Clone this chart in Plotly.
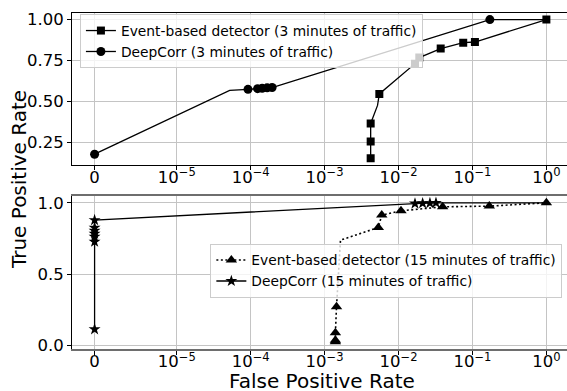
import numpy as np
import plotly.graph_objects as go

# ---- data: false positive rate / true positive rate ----
# Top panel: 3 minutes of traffic
ev3_fpr = [0.0042, 0.0042, 0.0042, 0.0052, 0.0055, 0.0167, 0.0191, 0.0372, 0.075, 0.108, 1.0]
ev3_tpr = [0.154, 0.256, 0.366, 0.476, 0.546, 0.731, 0.768, 0.823, 0.859, 0.863, 1.0]
ev3_mark = [1, 1, 1, 0, 1, 1, 1, 1, 1, 1, 1]

dc3_fpr = [0.0, 5.2e-5, 9.2e-5, 1.24e-4, 1.43e-4, 1.67e-4, 1.95e-4, 0.172, 1.0]
dc3_tpr = [0.178, 0.568, 0.574, 0.578, 0.580, 0.583, 0.585, 1.0, 1.0]
dc3_mark = [1, 0, 1, 1, 1, 1, 1, 1, 0]

# Bottom panel: 15 minutes of traffic
ev15_fpr = [1.4e-3, 1.4e-3, 1.4e-3, 1.45e-3, 1.64e-3, 5.33e-3, 5.93e-3, 0.0108, 0.0395, 0.169, 1.0]
ev15_tpr = [0.025, 0.035, 0.088, 0.271, 0.738, 0.827, 0.914, 0.944, 0.972, 0.977, 1.0]
ev15_mark = [1, 1, 1, 1, 0, 1, 1, 1, 1, 1, 1]

dc15_fpr = [0, 0, 0, 0, 0, 0, 0, 0.0167, 0.0212, 0.0266, 0.0321, 1.0]
dc15_tpr = [0.112, 0.727, 0.762, 0.783, 0.804, 0.825, 0.879, 0.995, 0.997, 0.998, 1.0, 1.0]
dc15_mark = [1, 1, 1, 1, 1, 1, 1, 1, 1, 1, 1, 0]

x_ticks = [0, 1e-5, 1e-4, 1e-3, 1e-2, 1e-1, 1e0]
x_ticktext = ["0", "10<sup>−5</sup>", "10<sup>−4</sup>", "10<sup>−3</sup>",
              "10<sup>−2</sup>", "10<sup>−1</sup>", "10<sup>0</sup>"]

LINTHRESH = 1e-5
LINSCALE = 1.0


def symlog(v):
    """Symmetric-log transform (linear below LINTHRESH, log10 above)."""
    v = np.asarray(v, dtype=float)
    scale = LINSCALE / (1.0 - 1.0 / 10.0)
    a = np.abs(v)
    lin = a / LINTHRESH * scale
    lg = scale + np.log10(np.maximum(a, LINTHRESH) / LINTHRESH)
    return np.sign(v) * np.where(a <= LINTHRESH, lin, lg)


def mcolors(flags):
    return ["black" if f else "rgba(0,0,0,0)" for f in flags]


FONT = "DejaVu Sans"
fig = go.Figure()

fig.add_trace(go.Scatter(
    x=symlog(ev3_fpr), y=ev3_tpr, mode="lines+markers",
    name="Event-based detector (3 minutes of traffic)",
    line=dict(color="black", width=1.3),
    marker=dict(symbol="square", size=8, color=mcolors(ev3_mark)),
    xaxis="x", yaxis="y", legend="legend"))
fig.add_trace(go.Scatter(
    x=symlog(dc3_fpr), y=dc3_tpr, mode="lines+markers",
    name="DeepCorr (3 minutes of traffic)",
    line=dict(color="black", width=1.3),
    marker=dict(symbol="circle", size=9, color=mcolors(dc3_mark)),
    xaxis="x", yaxis="y", legend="legend"))
fig.add_trace(go.Scatter(
    x=symlog(ev15_fpr), y=ev15_tpr, mode="lines+markers",
    name="Event-based detector (15 minutes of traffic)",
    line=dict(color="black", width=1.6, dash="2px,2.5px"),
    marker=dict(symbol="triangle-up", size=10, color=mcolors(ev15_mark)),
    xaxis="x2", yaxis="y2", legend="legend2"))
fig.add_trace(go.Scatter(
    x=symlog(dc15_fpr), y=dc15_tpr, mode="lines+markers",
    name="DeepCorr (15 minutes of traffic)",
    line=dict(color="black", width=1.3),
    marker=dict(symbol="star", size=9, color=mcolors(dc15_mark)),
    xaxis="x2", yaxis="y2", legend="legend2"))

xrange = [-0.3056, 6.39]
common_x = dict(
    range=xrange, tickmode="array", tickvals=symlog(x_ticks), ticktext=x_ticktext,
    showgrid=True, gridcolor="#c4c4c4", gridwidth=1, zeroline=False,
    ticks="outside", ticklen=4, tickcolor="black", ticklabelstandoff=-7,
    tickfont=dict(family=FONT, size=16.5, color="black"),
    showline=True, mirror=True, automargin=False,
)
common_y = dict(
    showgrid=True, gridcolor="#c4c4c4", gridwidth=1, zeroline=False,
    ticks="outside", ticklen=4, tickcolor="black",
    tickfont=dict(family=FONT, size=16.5, color="black"),
    showline=True, linecolor="black", linewidth=1, mirror=False, automargin=False,
)

legend_style = dict(xanchor="left", yanchor="top",
                    bgcolor="rgba(255,255,255,0.8)", bordercolor="#cccccc", borderwidth=1,
                    font=dict(family=FONT, size=13.8, color="black"))

fig.update_layout(
    width=567, height=391,
    margin=dict(l=72, r=0, t=0, b=0),
    paper_bgcolor="white", plot_bgcolor="white",
    font=dict(family=FONT, color="black"),
    xaxis=dict(anchor="y", linecolor="black", linewidth=1, **common_x),
    yaxis=dict(anchor="x", domain=[0.578, 0.9675], range=[0.112, 1.042],
               tickvals=[0.25, 0.5, 0.75, 1.0], tickformat=".2f", **common_y),
    xaxis2=dict(anchor="y2", linecolor="#6e6e6e", linewidth=2, **common_x),
    yaxis2=dict(anchor="x2", domain=[0.1082, 0.4987], range=[-0.024, 1.048],
                tickvals=[0.0, 0.5, 1.0], tickformat=".1f", **common_y),
    legend=dict(x=0.016, y=0.964, **legend_style),
    legend2=dict(x=0.2795, y=0.377, **legend_style),
    annotations=[
        dict(text="True Positive Rate", xref="paper", yref="paper",
             x=-0.107, y=0.5396, xanchor="center", yanchor="middle",
             textangle=-90, showarrow=False,
             font=dict(family=FONT, size=20, color="black")),
        dict(text="False Positive Rate", xref="paper", yref="paper",
             x=0.505, y=0.0256, xanchor="center", yanchor="middle",
             showarrow=False, font=dict(family=FONT, size=20, color="black")),
    ],
)

fig.write_html("out.html")
